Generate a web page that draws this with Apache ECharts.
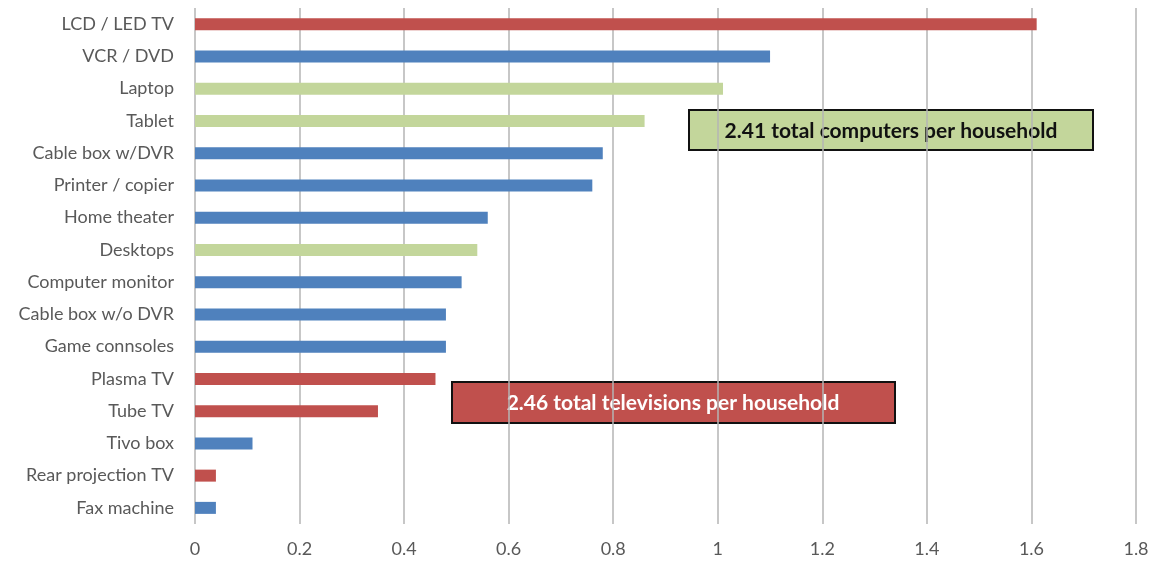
<!DOCTYPE html>
<html>
<head>
<meta charset="utf-8">
<script src="https://cdn.jsdelivr.net/npm/echarts@6/dist/echarts.min.js"></script>
<style>
  html, body { margin: 0; padding: 0; background: #ffffff; }
  #chart { width: 1156px; height: 561px; }
</style>
</head>
<body>
<div id="chart"></div>
<script>
// Devices per household
const categories = [
  'LCD / LED TV', 'VCR / DVD', 'Laptop', 'Tablet', 'Cable box w/DVR',
  'Printer / copier', 'Home theater', 'Desktops', 'Computer monitor',
  'Cable box w/o DVR', 'Game connsoles', 'Plasma TV', 'Tube TV', 'Tivo box',
  'Rear projection TV', 'Fax machine'
];
const values = [1.61, 1.10, 1.01, 0.86, 0.78, 0.76, 0.56, 0.54, 0.51, 0.48, 0.48, 0.46, 0.35, 0.11, 0.04, 0.04];
// device group: tv, computer or other
const groups = ['tv', 'other', 'computer', 'computer', 'other', 'other', 'other', 'computer',
  'other', 'other', 'other', 'tv', 'tv', 'other', 'tv', 'other'];
const xTicks = { min: 0, max: 1.8, interval: 0.2 };

const groupColors = { tv: '#C0504D', computer: '#C3D69B', other: '#4F81BD' };

const chart = echarts.init(document.getElementById('chart'), null, { renderer: 'canvas' });

chart.setOption({
  animation: false,
  backgroundColor: '#ffffff',
  textStyle: { fontFamily: 'Lato, "Open Sans", sans-serif' },
  grid: { left: 195, right: 20, top: 8, bottom: 37, containLabel: false },
  xAxis: {
    type: 'value',
    min: xTicks.min,
    max: xTicks.max,
    interval: xTicks.interval,
    axisLine: { show: false },
    axisTick: { show: false },
    axisLabel: { color: '#595959', fontSize: 18, margin: 16 },
    splitLine: { show: true, lineStyle: { color: '#b4b4b4', width: 1.5 } }
  },
  yAxis: {
    type: 'category',
    inverse: true,
    data: categories,
    axisLine: { show: false },
    axisTick: { show: false },
    axisLabel: { color: '#595959', fontSize: 18, margin: 21 }
  },
  series: [{
    type: 'bar',
    barWidth: 12,
    data: values.map((v, i) => ({
      value: v,
      itemStyle: { color: groupColors[groups[i]] }
    }))
  }],
  graphic: [
    {
      type: 'group',
      left: 688,
      top: 109,
      children: [
        {
          type: 'rect',
          shape: { x: 0, y: 0, width: 404, height: 40 },
          style: { fill: '#C3D69B', stroke: '#111111', lineWidth: 2 }
        },
        {
          type: 'text',
          x: 202, y: 21,
          style: {
            text: '2.41 total computers per household',
            fill: '#111111',
            font: 'bold 21px Lato, "Open Sans", sans-serif',
            align: 'center',
            verticalAlign: 'middle'
          }
        }
      ]
    },
    {
      type: 'group',
      left: 451,
      top: 381,
      children: [
        {
          type: 'rect',
          shape: { x: 0, y: 0, width: 443, height: 41 },
          style: { fill: '#C0504D', stroke: '#111111', lineWidth: 2 }
        },
        {
          type: 'text',
          x: 221, y: 21,
          style: {
            text: '2.46 total televisions per household',
            fill: '#ffffff',
            font: 'bold 21px Lato, "Open Sans", sans-serif',
            align: 'center',
            verticalAlign: 'middle'
          }
        }
      ]
    }
  ]
});
</script>
</body>
</html>
